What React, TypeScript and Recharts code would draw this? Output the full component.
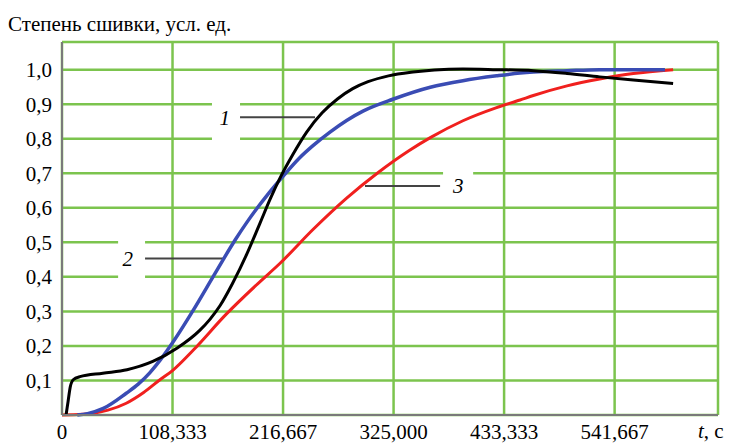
import React from 'react';
import { LineChart, Line, XAxis, YAxis, CartesianGrid, ReferenceLine, ReferenceArea } from 'recharts';

// Кривые степени сшивки
const timeOne = [4, 6, 8, 11, 17.6, 40, 63.7, 89, 113, 135, 145, 155, 167, 181, 194, 204, 214, 226, 240, 255, 270, 285, 300, 320, 344, 365, 393, 426, 462, 495, 527, 560, 599];
const degreeOne = [0, 0.04, 0.08, 0.102, 0.111, 0.121, 0.131, 0.155, 0.194, 0.245, 0.277, 0.317, 0.38, 0.465, 0.555, 0.625, 0.688, 0.753, 0.82, 0.875, 0.915, 0.945, 0.965, 0.982, 0.993, 0.999, 1.002, 1.0, 0.997, 0.989, 0.979, 0.97, 0.96];

const timeTwo = [15, 25, 40.5, 63, 75, 86, 96, 109, 129, 148, 158, 170, 181, 191, 201, 214, 233, 246, 263, 279, 295, 325, 361, 393, 426, 449, 462, 495, 527, 560, 591];
const degreeTwo = [0, 0.004, 0.019, 0.063, 0.09, 0.122, 0.158, 0.212, 0.305, 0.4, 0.45, 0.508, 0.557, 0.598, 0.636, 0.682, 0.745, 0.78, 0.82, 0.853, 0.88, 0.915, 0.949, 0.968, 0.982, 0.99, 0.993, 0.997, 1.0, 1.0, 1.0];

const timeThree = [0, 20, 31, 45, 63, 80, 96, 108, 129, 161, 190, 214, 246, 279, 309, 340, 361, 393, 426, 449, 462, 495, 527, 560, 599];
const degreeThree = [0, 0.002, 0.005, 0.014, 0.034, 0.065, 0.102, 0.128, 0.189, 0.292, 0.375, 0.44, 0.537, 0.628, 0.7, 0.765, 0.803, 0.852, 0.89, 0.912, 0.925, 0.953, 0.973, 0.989, 1.0];

const xTicks = [0, 108.333, 216.667, 325, 433.333, 541.667];
const yTicks = [0.1, 0.2, 0.3, 0.4, 0.5, 0.6, 0.7, 0.8, 0.9, 1.0];

const toRows = (ts: number[], ys: number[]) => ts.map((t, i) => ({ t, y: ys[i] }));
const curveOne = toRows(timeOne, degreeOne);
const curveTwo = toRows(timeTwo, degreeTwo);
const curveThree = toRows(timeThree, degreeThree);

const FONT = '"Liberation Serif", "Times New Roman", Times, "Noto Serif", "DejaVu Serif", serif';
const GRID = '#7cc44e';
const AXIS = '#7a7a7a';

const labelStyle = { fontSize: 21, fontStyle: 'italic', fill: '#000', fontFamily: FONT };

export default function App() {
    return (
        <div style={{ position: 'absolute', left: 0, top: 0, width: 729, height: 444, background: '#fff', fontFamily: FONT }}>
            <div style={{ position: 'absolute', left: 8, top: 14, fontSize: 21, lineHeight: '21px', whiteSpace: 'nowrap' }}>
                Степень сшивки, усл. ед.
            </div>
            <div style={{ position: 'absolute', left: 698, top: 421, fontSize: 21, lineHeight: '21px', whiteSpace: 'nowrap' }}>
                <i>t</i>, с
            </div>
            <LineChart width={729} height={444} margin={{ top: 42, right: 11, bottom: 0, left: 0 }}>
                <CartesianGrid stroke={GRID} strokeWidth={2.5} />
                <XAxis
                    dataKey="t"
                    type="number"
                    domain={[0, 643]}
                    ticks={xTicks}
                    allowDuplicatedCategory={false}
                    height={29}
                    tickSize={0}
                    tickMargin={9}
                    stroke={AXIS}
                    strokeWidth={2}
                    tick={{ fill: '#000', fontSize: 21, fontFamily: FONT }}
                    tickFormatter={(v: number) => (v === 0 ? '0' : v.toFixed(3).replace('.', ','))}
                />
                <YAxis
                    type="number"
                    domain={[0, 1.08]}
                    ticks={yTicks}
                    width={62}
                    tickSize={0}
                    tickMargin={10}
                    stroke={AXIS}
                    strokeWidth={2}
                    tick={{ fill: '#000', fontSize: 21, fontFamily: FONT }}
                    tickFormatter={(v: number) => v.toFixed(1).replace('.', ',')}
                />
                <ReferenceArea x1={147} x2={174.5} y1={0.775} y2={0.945} fill="#fff" fillOpacity={1} stroke="none" />
                <ReferenceArea x1={55} x2={81.4} y1={0.37} y2={0.535} fill="#fff" fillOpacity={1} stroke="none" />
                <ReferenceArea x1={373.5} x2={403} y1={0.675} y2={0.73} fill="#fff" fillOpacity={1} stroke="none" />
                <ReferenceLine
                    segment={[{ x: 174.5, y: 0.862 }, { x: 248, y: 0.862 }]}
                    stroke="#444"
                    strokeWidth={2}
                    label={{ value: '1', position: 'left', offset: 10, ...labelStyle }}
                />
                <ReferenceLine
                    segment={[{ x: 81.4, y: 0.453 }, { x: 158, y: 0.453 }]}
                    stroke="#444"
                    strokeWidth={2}
                    label={{ value: '2', position: 'left', offset: 12, ...labelStyle }}
                />
                <ReferenceLine
                    segment={[{ x: 297, y: 0.663 }, { x: 370.6, y: 0.663 }]}
                    stroke="#444"
                    strokeWidth={2}
                    label={{ value: '3', position: 'right', offset: 13, ...labelStyle }}
                />
                <Line data={curveThree} dataKey="y" type="monotone" stroke="#f0201e" strokeWidth={3} dot={false} isAnimationActive={false} />
                <Line data={curveTwo} dataKey="y" type="monotone" stroke="#3a4cb4" strokeWidth={3.5} dot={false} isAnimationActive={false} />
                <Line data={curveOne} dataKey="y" type="monotone" stroke="#000" strokeWidth={3} dot={false} isAnimationActive={false} />
            </LineChart>
        </div>
    );
}
